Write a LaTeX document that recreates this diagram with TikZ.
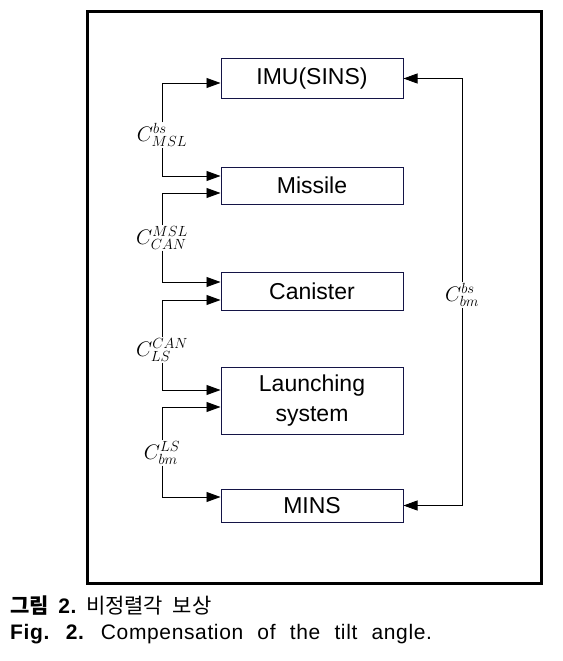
\RequirePackage{fix-cm}
\documentclass[tikz,border=0pt]{standalone}
\usepackage{fontspec}
\setmainfont{Liberation Sans}
\newfontfamily\krfont[WordSpace=2]{Noto Sans CJK KR}
\newfontfamily\capfont[LetterSpace=3,WordSpace=2.2]{Liberation Sans}
\usetikzlibrary{arrows.meta,positioning}
\definecolor{boxline}{RGB}{20,20,70}

\begin{document}
\begin{tikzpicture}[x=1pt,y=-1pt,
    blk/.style={draw=boxline,line width=1pt,minimum width=182pt,inner sep=0pt,
        align=center,font=\fontsize{23}{30}\selectfont},
    lab/.style={inner sep=1pt,font=\fontsize{21}{22}\selectfont},
    arr/.style={-{Triangle[length=14pt,width=10pt]},line width=0.8pt}]
    \useasboundingbox (0,0) rectangle (562,661);

    \draw[line width=3pt] (87.5,12) rectangle (541,583);

    \node[blk,minimum height=39pt] (imu) at (312,78.5) {IMU(SINS)};
    \node[blk,minimum height=37pt] (msl) at (312,185.5) {Missile};
    \node[blk,minimum height=38pt] (can) at (312,291) {Canister};
    \node[blk,minimum height=67pt] (ls) at (312,400.5) {Launching\\system};
    \node[blk,minimum height=33pt] (mins) at (312,505.5) {MINS};

    \node[lab] (c1) at (162,135) {$C^{bs}_{MSL}$};
    \node[lab] (c2) at (162,238) {$C^{MSL}_{CAN}$};
    \node[lab] (c3) at (162,350) {$C^{CAN}_{LS}$};
    \node[lab] (c4) at (162,453) {$C^{LS}_{bm}$};
    \node[lab] (c5) at (462,295) {$C^{bs}_{bm}$};

    \draw[arr] (c1) |- ([yshift=-4.5pt]imu.west);
    \draw[arr] (c1) |- ([yshift=9.5pt]msl.west);
    \draw[arr] (c2) |- ([yshift=-7.5pt]msl.west);
    \draw[arr] (c2) |- ([yshift=9pt]can.west);
    \draw[arr] (c3) |- ([yshift=-9pt]can.west);
    \draw[arr] (c3) |- ([yshift=10.5pt]ls.west);
    \draw[arr] (c4) |- ([yshift=-6.5pt]ls.west);
    \draw[arr] (c4) |- ([yshift=8.5pt]mins.west);
    \draw[arr] (c5) |- (imu.east);
    \draw[arr] (c5) |- (mins.east);

    \node[anchor=west,inner sep=0pt,font=\fontsize{21}{22}\selectfont\krfont] (cap1) at (10,606)
        {\textbf{그림 }{\capfont\bfseries 2.}\ 비정렬각 보상};
    \node[anchor=west,inner sep=0pt,font=\fontsize{21}{22}\selectfont\capfont] (cap2) at (10,634)
        {\textbf{Fig. 2.} Compensation of the tilt angle.};
\end{tikzpicture}
\end{document}
